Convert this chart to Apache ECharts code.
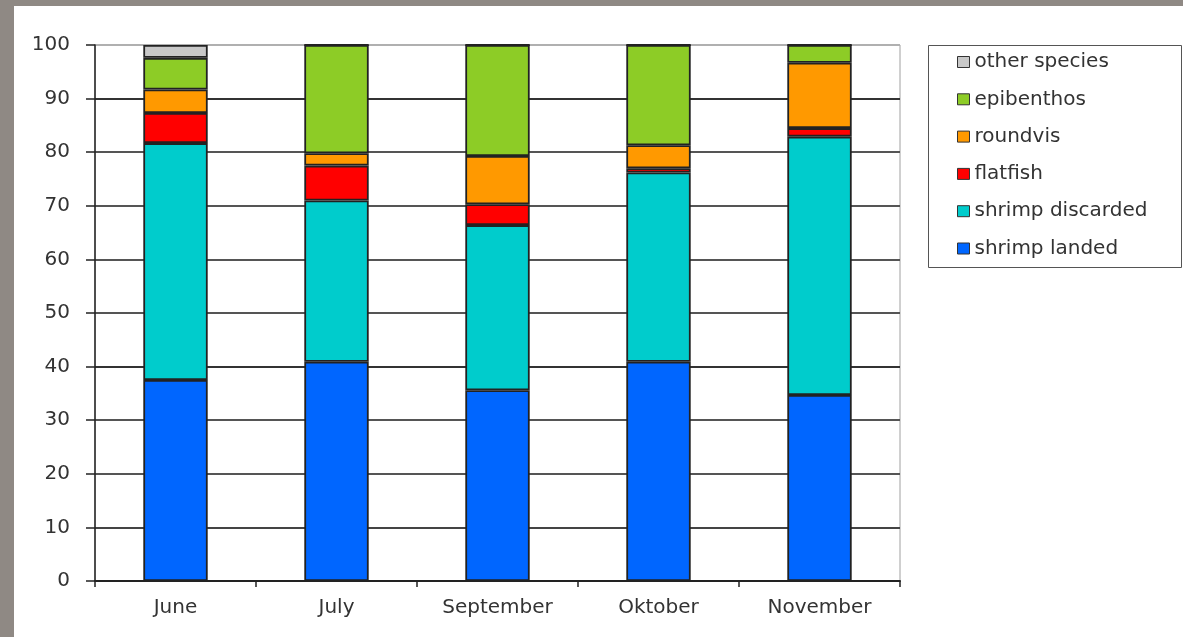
<!DOCTYPE html>
<html>
<head>
<meta charset="utf-8">
<script src="https://cdn.jsdelivr.net/npm/echarts@6/dist/echarts.min.js"></script>
<style>
html,body{margin:0;padding:0;background:#fff;}
#chart{width:1183px;height:637px;}
</style>
</head>
<body>
<div id="chart"></div>
<script>
const categories = ['June', 'July', 'September', 'Oktober', 'November'];
const shrimpLanded = [37.5, 40.9, 35.6, 40.9, 34.7];
const shrimpDiscarded = [44.2, 30.1, 30.8, 35.3, 48.2];
const flatfish = [5.6, 6.5, 3.9, 0.8, 1.6];
const roundvis = [4.4, 2.3, 9.0, 4.3, 12.2];
const epibenthos = [5.9, 20.2, 20.7, 18.7, 3.3];
const otherSpecies = [2.4, 0, 0, 0, 0];
const legendOrder = ['other species', 'epibenthos', 'roundvis', 'flatfish', 'shrimp discarded', 'shrimp landed'];

const font = 'DejaVu Sans';
const textColor = '#333';

function bar(name, data, color) {
  return {
    name: name,
    type: 'bar',
    stack: 'total',
    barWidth: '40%',
    data: data,
    itemStyle: { color: color, borderColor: '#222', borderWidth: 1.8 },
    emphasis: { disabled: true }
  };
}

const chart = echarts.init(document.getElementById('chart'), null, { renderer: 'canvas' });
chart.setOption({
  backgroundColor: '#ffffff',
  animation: false,
  grid: {
    left: 95, right: 283, top: 45, bottom: 56,
    show: true, borderColor: '#a0a0a0', borderWidth: 1, backgroundColor: 'transparent'
  },
  graphic: [
    { type: 'rect', shape: { x: 0, y: 0, width: 1183, height: 6 }, style: { fill: '#8f8984' }, z: 100 },
    { type: 'rect', shape: { x: 0, y: 0, width: 14, height: 637 }, style: { fill: '#8f8984' }, z: 100 },
    { type: 'rect', shape: { x: 928.5, y: 45.5, width: 253, height: 222 }, style: { fill: 'transparent', stroke: '#555', lineWidth: 1 }, z: 1 }
  ],
  legend: {
    orient: 'vertical',
    left: 929,
    top: 46,
    padding: [6, 10, 10, 28],
    itemWidth: 12,
    itemHeight: 11,
    itemGap: 17.3,
    data: legendOrder,
    icon: 'rect',
    itemStyle: { borderColor: '#333', borderWidth: 1 },
    textStyle: { fontFamily: font, fontSize: 20, color: textColor, lineHeight: 20 },
    selectedMode: false
  },
  xAxis: {
    type: 'category',
    data: categories,
    axisLine: { lineStyle: { color: '#222', width: 2 } },
    axisTick: { show: true, length: 6, lineStyle: { color: '#222', width: 1.5 } },
    axisLabel: { fontFamily: font, fontSize: 20, color: textColor, margin: 17 }
  },
  yAxis: {
    type: 'value',
    min: 0, max: 100, interval: 10,
    axisLine: { show: true, lineStyle: { color: '#222', width: 1.5 } },
    axisTick: { show: true, length: 9, lineStyle: { color: '#222', width: 1.5 } },
    axisLabel: { fontFamily: font, fontSize: 20, color: textColor, margin: 25 },
    splitLine: {
      show: true,
      lineStyle: {
        color: ['#333', '#444', '#555', '#555', '#333', '#555', '#555', '#555', '#555', '#333', '#b0b0b0'],
        width: 1.8
      }
    }
  },
  series: [
    bar('shrimp landed', shrimpLanded, '#0066ff'),
    bar('shrimp discarded', shrimpDiscarded, '#00cccc'),
    bar('flatfish', flatfish, '#ff0000'),
    bar('roundvis', roundvis, '#ff9900'),
    bar('epibenthos', epibenthos, '#8dcc26'),
    bar('other species', otherSpecies, '#c8c8c8')
  ]
});
</script>
</body>
</html>
